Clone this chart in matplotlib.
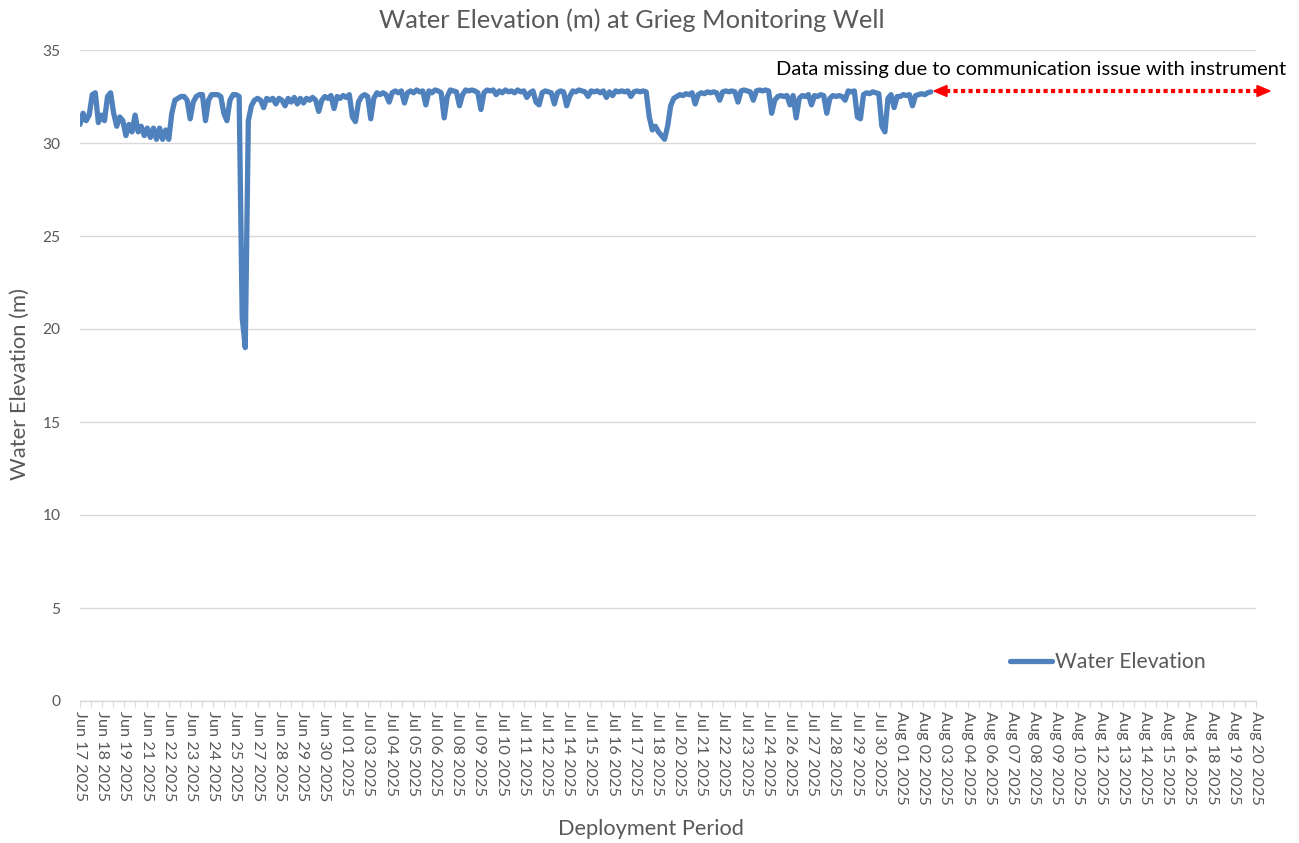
import matplotlib
matplotlib.use('Agg')
import matplotlib.pyplot as plt
from matplotlib.lines import Line2D
from matplotlib.patches import Polygon
import matplotlib.dates as mdates
import pandas as pd

W, H = 1299, 843

# ---------------- data ----------------
start_time = '2025-06-17 12:00'
sample_interval = '4h'
# water elevation (m), one row per day (00,04,08,12,16,20 h); first row starts 12:00
elevation = [
    31.0, 31.6, 31.2,                            # Jun 17
    31.5, 32.6, 32.7, 31.1, 31.5, 31.2,          # Jun 18
    32.5, 32.7, 31.6, 30.9, 31.4, 31.2,          # Jun 19
    30.4, 31.0, 30.6, 31.5, 30.6, 30.9,          # Jun 20
    30.4, 30.8, 30.3, 30.8, 30.2, 30.8,          # Jun 21
    30.2, 30.7, 30.2, 31.6, 32.3, 32.4,          # Jun 22
    32.5, 32.5, 32.3, 31.3, 32.2, 32.5,          # Jun 23
    32.6, 32.6, 31.2, 32.3, 32.6, 32.6,          # Jun 24
    32.6, 32.5, 31.6, 31.2, 32.3, 32.6,          # Jun 25
    32.6, 32.5, 20.6, 19.0, 31.2, 32.0,          # Jun 26
    32.3, 32.4, 32.3, 31.9, 32.4, 32.3,          # Jun 27
    32.4, 32.1, 32.4, 32.3, 32.0, 32.4,          # Jun 28
    32.2, 32.45, 32.1, 32.4, 32.15, 32.4,        # Jun 29
    32.3, 32.45, 32.3, 31.7, 32.3, 32.5,         # Jun 30
    32.4, 32.55, 31.85, 32.5, 32.4, 32.55,       # Jul 01
    32.45, 32.6, 31.4, 31.15, 32.2, 32.5,        # Jul 02
    32.6, 32.5, 31.3, 32.4, 32.7, 32.6,          # Jul 03
    32.7, 32.6, 32.2, 32.7, 32.8, 32.7,          # Jul 04
    32.8, 32.15, 32.7, 32.8, 32.7, 32.85,        # Jul 05
    32.75, 32.8, 32.05, 32.8, 32.7, 32.85,       # Jul 06
    32.8, 32.7, 31.35, 32.5, 32.85, 32.8,        # Jul 07
    32.75, 32.0, 32.6, 32.85, 32.8, 32.85,       # Jul 08
    32.8, 32.7, 31.8, 32.7, 32.85, 32.8,         # Jul 09
    32.85, 32.6, 32.8, 32.7, 32.85, 32.75,       # Jul 10
    32.8, 32.7, 32.85, 32.75, 32.8, 32.45,       # Jul 11
    32.7, 32.8, 32.2, 32.05, 32.7, 32.8,         # Jul 12
    32.75, 32.7, 32.1, 32.7, 32.8, 32.75,        # Jul 13
    32.0, 32.5, 32.8, 32.75, 32.85, 32.8,        # Jul 14
    32.75, 32.5, 32.8, 32.75, 32.8, 32.7,        # Jul 15
    32.8, 32.45, 32.75, 32.55, 32.8, 32.75,      # Jul 16
    32.8, 32.75, 32.8, 32.5, 32.75, 32.8,        # Jul 17
    32.75, 32.8, 32.75, 31.4, 30.7, 30.9,        # Jul 18
    30.6, 30.4, 30.2, 30.9, 32.0, 32.4,          # Jul 19
    32.5, 32.6, 32.55, 32.65, 32.6, 32.7,        # Jul 20
    32.1, 32.6, 32.7, 32.65, 32.75, 32.7,        # Jul 21
    32.75, 32.7, 32.3, 32.75, 32.8, 32.75,       # Jul 22
    32.8, 32.75, 32.2, 32.8, 32.85, 32.8,        # Jul 23
    32.75, 32.3, 32.8, 32.85, 32.8, 32.85,       # Jul 24
    32.8, 31.6, 32.3, 32.5, 32.55, 32.5,         # Jul 25
    32.55, 32.05, 32.55, 31.35, 32.4, 32.55,     # Jul 26
    32.5, 32.6, 32.05, 32.55, 32.5, 32.6,        # Jul 27
    32.55, 31.6, 32.4, 32.55, 32.5, 32.55,       # Jul 28
    32.5, 32.3, 32.8, 32.75, 32.8, 31.4,         # Jul 29
    31.3, 32.6, 32.7, 32.65, 32.75, 32.7,        # Jul 30
    32.65, 30.9, 30.6, 32.4, 32.6, 31.9,         # Jul 31
    32.5, 32.5, 32.6, 32.55, 32.6, 32.0,         # Aug 01
    32.55, 32.6, 32.65, 32.6, 32.7, 32.75,       # Aug 02
]

tick_start = '2025-06-17 12:00'
tick_step = '29h'
tick_labels = [
    'Jun 17 2025', 'Jun 18 2025', 'Jun 19 2025', 'Jun 21 2025', 'Jun 22 2025',
    'Jun 23 2025', 'Jun 24 2025', 'Jun 25 2025', 'Jun 27 2025', 'Jun 28 2025',
    'Jun 29 2025', 'Jun 30 2025', 'Jul 01 2025', 'Jul 03 2025', 'Jul 04 2025',
    'Jul 05 2025', 'Jul 06 2025', 'Jul 08 2025', 'Jul 09 2025', 'Jul 10 2025',
    'Jul 11 2025', 'Jul 12 2025', 'Jul 14 2025', 'Jul 15 2025', 'Jul 16 2025',
    'Jul 17 2025', 'Jul 18 2025', 'Jul 20 2025', 'Jul 21 2025', 'Jul 22 2025',
    'Jul 23 2025', 'Jul 24 2025', 'Jul 26 2025', 'Jul 27 2025', 'Jul 28 2025',
    'Jul 29 2025', 'Jul 30 2025', 'Aug 01 2025', 'Aug 02 2025', 'Aug 03 2025',
    'Aug 04 2025', 'Aug 06 2025', 'Aug 07 2025', 'Aug 08 2025', 'Aug 09 2025',
    'Aug 10 2025', 'Aug 12 2025', 'Aug 13 2025', 'Aug 14 2025', 'Aug 15 2025',
    'Aug 16 2025', 'Aug 18 2025', 'Aug 19 2025', 'Aug 20 2025',
]
y_ticks = [0, 5, 10, 15, 20, 25, 30, 35]

title_text = 'Water Elevation (m) at Grieg Monitoring Well'
y_label = 'Water Elevation (m)'
x_label = 'Deployment Period'
legend_label = 'Water Elevation'
note_text = 'Data missing due to communication issue with instrument'

# ---------------- style ----------------
FONT = 'Lato'
GRAY = '#595959'
GRID = '#D9D9D9'
BLUE = '#4F81BD'
plt.rcParams['font.family'] = [FONT, 'DejaVu Sans']

fig = plt.figure(figsize=(W / 100, H / 100), dpi=100)
ax = fig.add_axes([80 / W, (H - 701) / H, (1256 - 80) / W, (701 - 50) / H])

times = pd.date_range(start_time, periods=len(elevation), freq=sample_interval)
tick_pos = pd.date_range(tick_start, periods=len(tick_labels), freq=tick_step)
tnum = mdates.date2num(times.to_pydatetime())
ticknum = mdates.date2num(tick_pos.to_pydatetime())

ax.plot(tnum, elevation, color=BLUE, lw=3.8, solid_joinstyle='round',
        solid_capstyle='round', label=legend_label, zorder=3)

ax.set_xlim(ticknum[0], ticknum[-1])
ax.set_ylim(0, 35)
ax.set_yticks(y_ticks)
ax.set_yticklabels([str(v) for v in y_ticks])
ax.set_xticks(ticknum)
ax.set_xticklabels(tick_labels, rotation=270, ha='center', va='top')
ax.set_xticks((ticknum[:-1] + ticknum[1:]) / 2, minor=True)

for s in ['top', 'right', 'left']:
    ax.spines[s].set_visible(False)
ax.spines['bottom'].set_color(GRID)
ax.spines['bottom'].set_linewidth(1.0)
ax.grid(axis='y', color=GRID, lw=1.0)
ax.set_axisbelow(True)

ax.tick_params(axis='y', length=0, pad=14, labelsize=11.2, labelcolor=GRAY)
ax.tick_params(axis='x', which='both', direction='out', length=4, width=0.8,
               color=GRID, labelsize=11.7, labelcolor=GRAY, pad=3)

fig.text(632 / W, 1 - 20 / H, title_text, ha='center', va='center',
         fontsize=18.3, color=GRAY)
fig.text(20 / W, 1 - 384 / H, y_label, ha='center', va='center',
         rotation=90, fontsize=15.8, color=GRAY)
fig.text(651 / W, 1 - 829 / H, x_label, ha='center', va='center',
         fontsize=15.7, color=GRAY)

leg = ax.legend(loc='center left', bbox_to_anchor=(1010 / W, 1 - 662 / H),
                bbox_transform=fig.transFigure, frameon=False,
                handlelength=2.0, handletextpad=0.15, borderpad=0,
                borderaxespad=0, fontsize=15.2)
for t in leg.get_texts():
    t.set_color(GRAY)

# annotation
fig.text(1031 / W, 1 - 70 / H, note_text, ha='center', va='center',
         fontsize=14.5, color='black')
ya = 1 - 91 / H
fig.add_artist(Line2D([946 / W, 1258 / W], [ya, ya], transform=fig.transFigure,
                      color='#FF0000', lw=3, ls=(0, (1, 0.8)),
                      dash_capstyle='butt'))
hh = 5.5 / H
fig.add_artist(Polygon([[934 / W, ya], [947 / W, ya + hh], [947 / W, ya - hh]],
                       closed=True, transform=fig.transFigure, color='#FF0000'))
fig.add_artist(Polygon([[1270 / W, ya], [1257 / W, ya + hh], [1257 / W, ya - hh]],
                       closed=True, transform=fig.transFigure, color='#FF0000'))

fig.savefig('out.png', dpi=100)
